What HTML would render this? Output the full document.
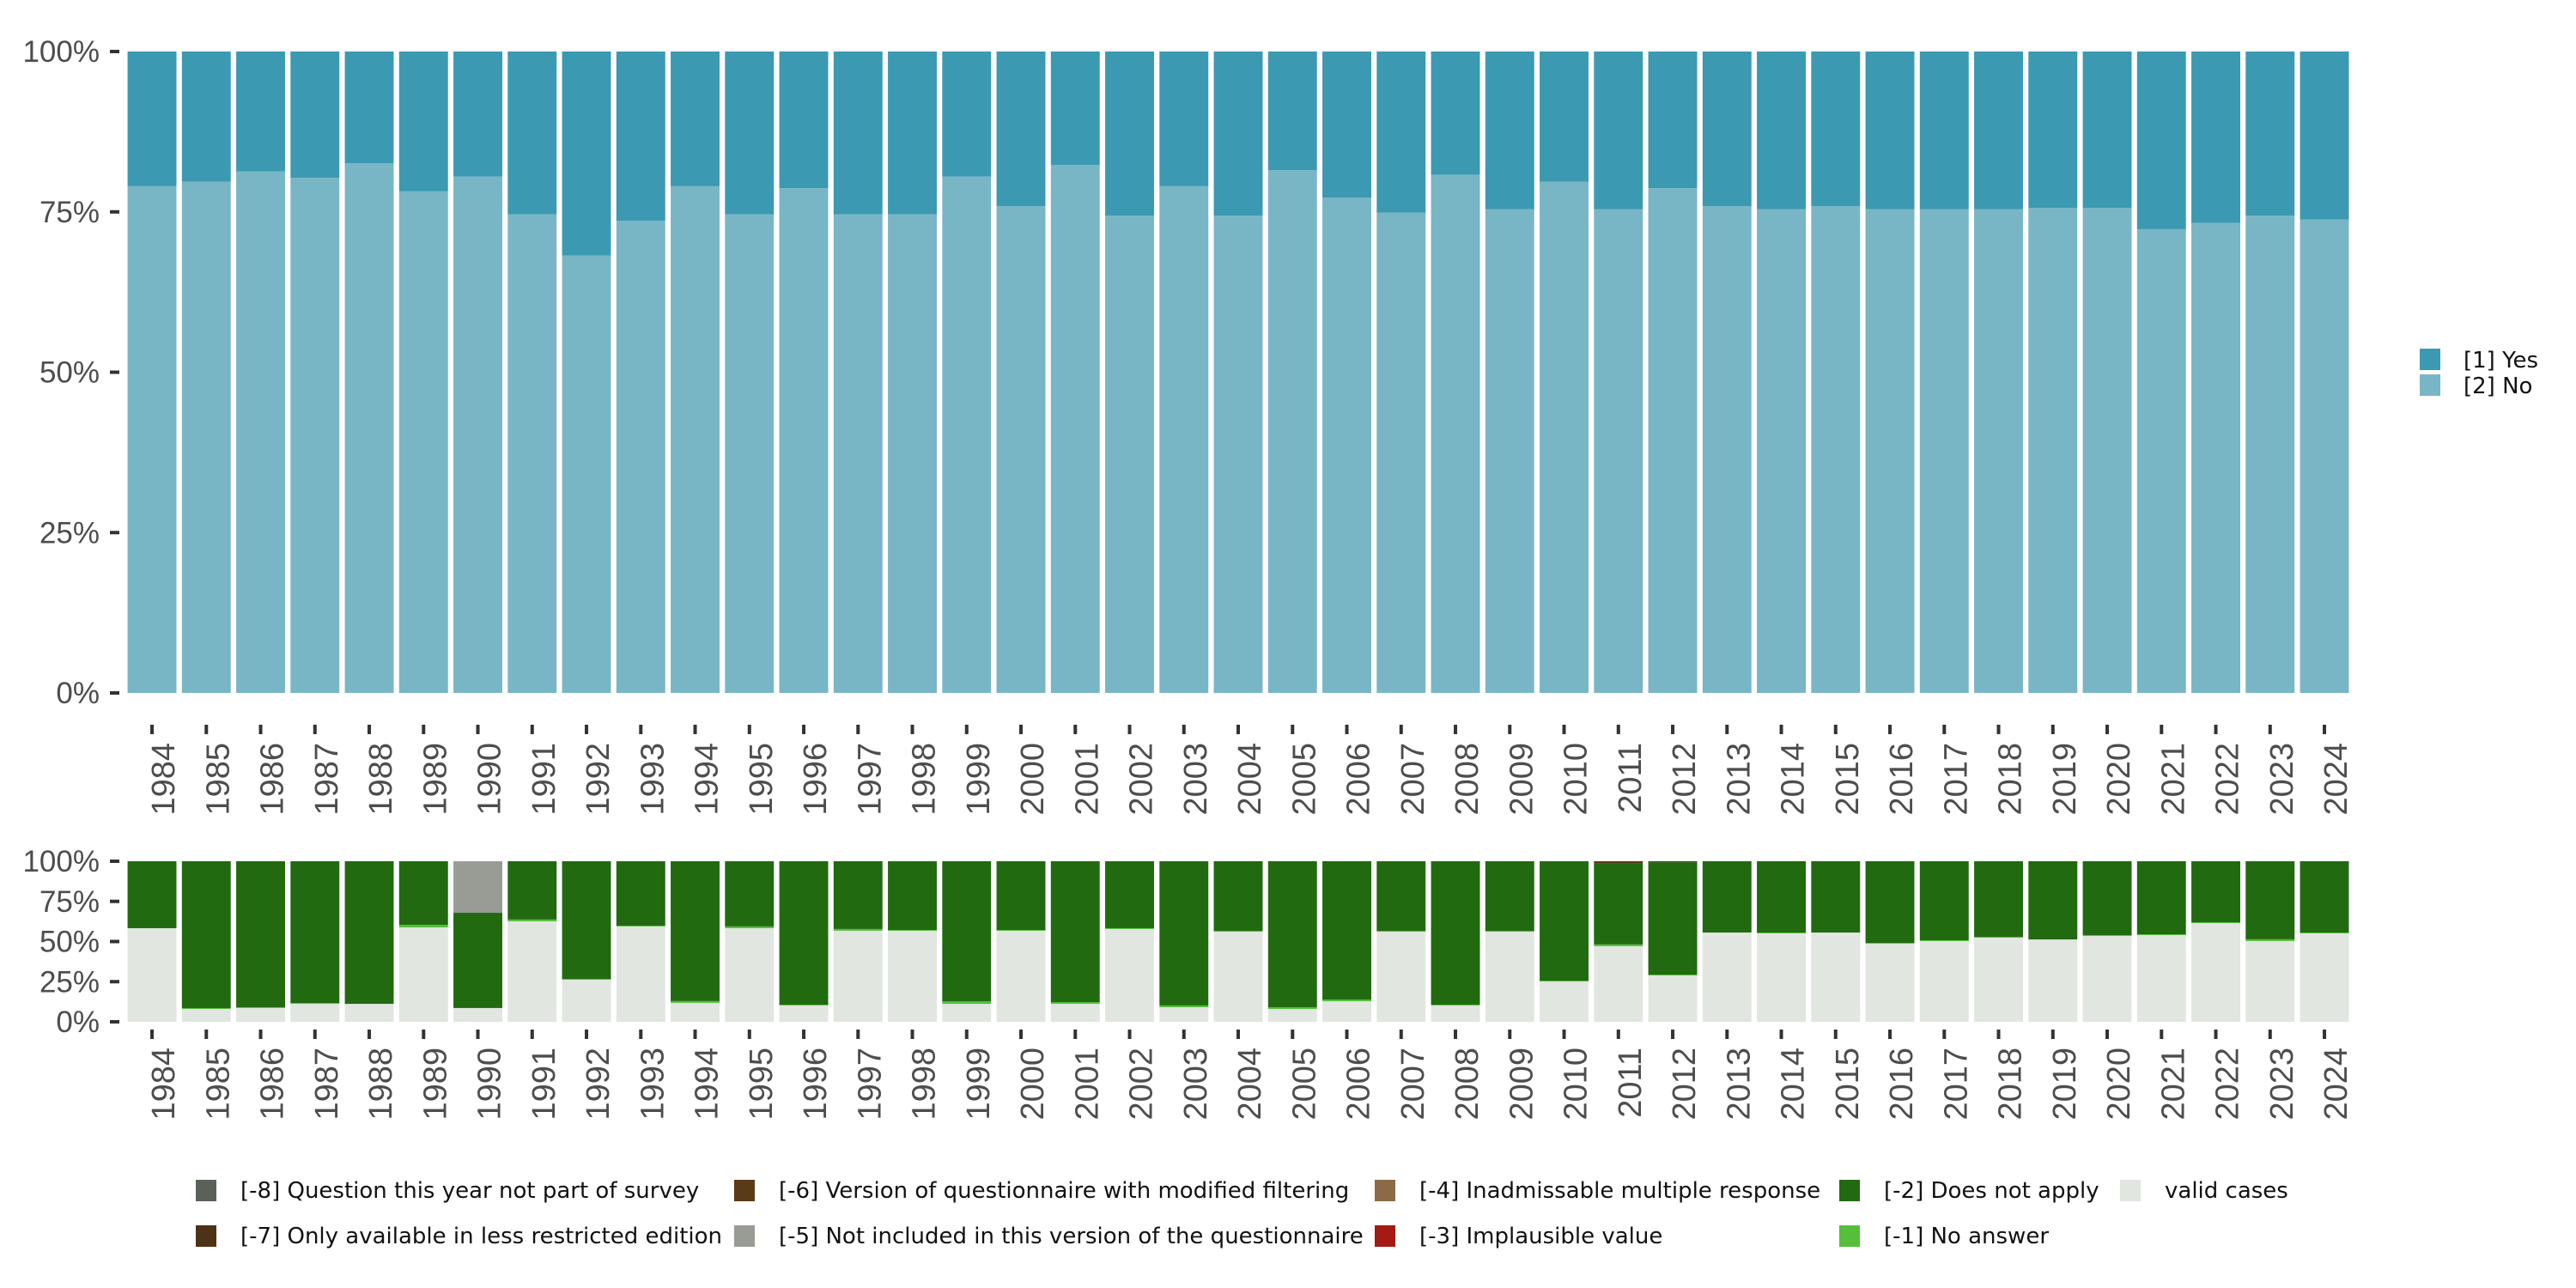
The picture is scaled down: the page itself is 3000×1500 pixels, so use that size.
<!DOCTYPE html>
<html><head><meta charset="utf-8"><style>
html,body{margin:0;padding:0;background:#fff;}
svg{display:block;font-family:"Liberation Sans",sans-serif;}
.lg{font-family:"DejaVu Sans","Liberation Sans",sans-serif;}
</style></head><body>
<svg id="chart" width="3000" height="1500" viewBox="0 0 3000 1500" xmlns="http://www.w3.org/2000/svg">
<g id="top"></g>
<g id="bot"></g>
<g id="leg1">
<rect x="2818" y="406" width="24" height="25" fill="#3c99b2"/>
<text class="lg" x="2869" y="428" font-size="26" fill="#111">[1] Yes</text>
<rect x="2818" y="436" width="24" height="25" fill="#79b6c5"/>
<text class="lg" x="2869" y="458" font-size="26" fill="#111">[2] No</text>
</g>
<g id="leg2"></g>
</svg>
<script>
const years = [];
for (let y = 1984; y <= 2024; y++) years.push(String(y));
const noPct = [79.0,79.7,81.3,80.3,82.6,78.2,80.5,74.6,68.2,73.6,79.0,74.6,78.7,74.6,74.6,80.5,75.9,82.3,74.4,79.0,74.4,81.5,77.2,74.9,80.8,75.4,79.7,75.4,78.7,75.9,75.4,75.9,75.4,75.4,75.4,75.6,75.6,72.3,73.3,74.4,73.8];
const validPct = [58.3,8.0,8.6,11.2,11.2,58.8,8.6,62.6,26.2,59.4,11.8,58.3,10.2,56.7,56.7,11.2,56.7,11.2,57.8,9.1,56.1,8.0,12.8,56.1,10.2,56.1,25.1,47.1,28.9,55.6,55.1,55.6,48.7,50.3,52.4,51.3,53.5,54.0,61.5,50.3,55.1];
const noAnswerPct = [0,0.5,0.5,0.5,0,1.6,0,1.1,0.5,0.5,1.1,1.1,0.5,1.1,0.5,1.6,0.5,1.1,0.5,1.1,0.5,1.1,1.1,0.5,0.5,0.5,0.5,1.1,0.5,0,0.5,0,0.5,0.5,0.5,0,0.5,0.5,0.5,1.1,0.5];
const notIncludedPct = [0,0,0,0,0,0,32.1,0,0,0,0,0,0,0,0,0,0,0,0,0,0,0,0,0,0,0,0,0,0,0,0,0,0,0,0,0,0,0,0,0,0];
const modFilterPct = [0,0,0,0,0,0,0,0,0,0,0,0,0,0,0,0,0,0,0,0,0,0,0,0,0,0,0,1.1,0.6,0,0,0,0,0,0,0,0,0,0,0,0];
const yTicks = [0,25,50,75,100];
const yTickLabels = ["0%","25%","50%","75%","100%"];

const NS = "http://www.w3.org/2000/svg";
function mk(tag, attrs, parent){const e=document.createElementNS(NS,tag);for(const k in attrs)e.setAttribute(k,attrs[k]);parent.appendChild(e);return e;}
const left=145.4, band=63.25, bw=band*0.9;
function xBand(i){return left+i*band+(band-bw)/2;}
function xCenter(i){return left+i*band+band/2;}

function axes(g, y0, y1, tickY, labY){
  const ys=v=>y1-(y1-y0)*v/100;
  yTicks.forEach((t,i)=>{
    const r=mk('rect',{x:128,y:ys(t)-2,width:11,height:4,fill:'#333'},g);
    
    
    const tx=mk('text',{x:116,y:ys(t)+12,'font-size':35,fill:'#4d4d4d','text-anchor':'end'},g);
    
    
    tx.textContent=yTickLabels[i];
  });
  years.forEach((yr,i)=>{
    const c=xCenter(i);
    const r=mk('rect',{x:c-2,y:tickY,width:4,height:11,fill:'#333'},g);
    
    
    const tx=mk('text',{x:0,y:0,'font-size':38,fill:'#4d4d4d','text-anchor':'end',transform:`translate(${c+26},${labY}) rotate(-90)`},g);
    
    
    tx.textContent=yr;
  });
  return ys;
}

const gt=document.getElementById('top');
const ysT=axes(gt,60,807,844,865);
years.forEach((yr,i)=>{
  const x=xBand(i);
  const r1=mk('rect',{x:x,y:ysT(noPct[i]),width:bw,height:ysT(0)-ysT(noPct[i]),fill:'#79b6c5'},gt);
  
  
  const r2=mk('rect',{x:x,y:ysT(100),width:bw,height:ysT(noPct[i])-ysT(100),fill:'#3c99b2'},gt);
  
  
});

const gb=document.getElementById('bot');
const ysB=axes(gb,1003,1190,1199,1220);
years.forEach((yr,i)=>{
  const x=xBand(i);
  const dna=100-validPct[i]-noAnswerPct[i]-notIncludedPct[i]-modFilterPct[i];
  const segs=[[validPct[i],'#e1e6e0','valid'],[noAnswerPct[i],'#55bf3c','no-answer'],[dna,'#216a10','does-not-apply'],[notIncludedPct[i],'#999c95','not-included'],[modFilterPct[i],'#5b3a18','modified-filtering']];
  let acc=0;
  segs.forEach(s=>{
    if(s[0]<=0)return;
    const r=mk('rect',{x:x,y:ysB(acc+s[0]),width:bw,height:ysB(acc)-ysB(acc+s[0]),fill:s[1]},gb);
    
    
    acc+=s[0];
  });
});

const legItems=[
 [228,1374,'#596159','[-8] Question this year not part of survey'],
 [228,1427,'#4d3218','[-7] Only available in less restricted edition'],
 [855,1374,'#5b3a18','[-6] Version of questionnaire with modified filtering'],
 [855,1427,'#999c95','[-5] Not included in this version of the questionnaire'],
 [1601,1374,'#8c6a47','[-4] Inadmissable multiple response'],
 [1601,1427,'#a31b14','[-3] Implausible value'],
 [2142,1374,'#216a10','[-2] Does not apply'],
 [2142,1427,'#55bf3c','[-1] No answer'],
 [2469,1374,'#e1e6e0','valid cases']];
const gl=document.getElementById('leg2');
legItems.forEach(it=>{
  const r=mk('rect',{x:it[0],y:it[1],width:24,height:25,fill:it[2]},gl);
  
  
  const t=mk('text',{x:it[0]+52,y:it[1]+21,'font-size':26,fill:'#111','class':'lg'},gl);
  
  
  t.textContent=it[3];
});
</script>
</body></html>
